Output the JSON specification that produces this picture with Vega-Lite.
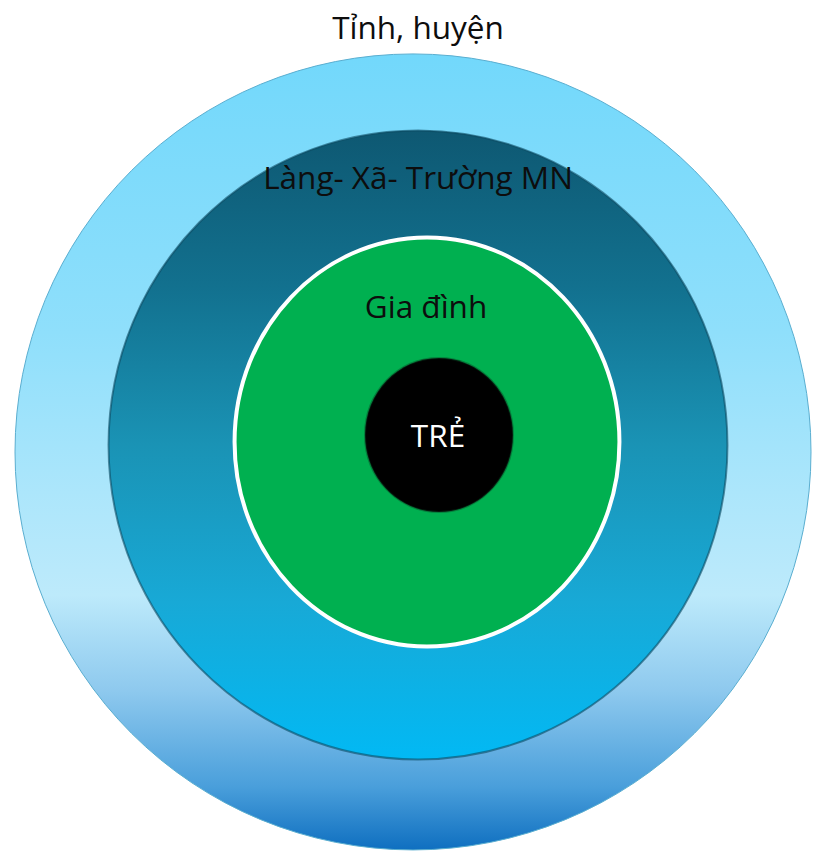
{
  "$schema": "https://vega.github.io/schema/vega-lite/v6.json",
  "width": 814,
  "height": 851,
  "padding": 0,
  "autosize": {"type": "fit", "contains": "padding"},
  "background": "#ffffff",
  "config": {"view": {"stroke": null}},
  "data": {
    "values": [
      {"ring": "Tỉnh, huyện", "level": 1, "cx": 413, "cy": 453, "d": 796, "lx": 418, "ly": 39},
      {"ring": "Làng- Xã- Trường MN", "level": 2, "cx": 418, "cy": 446, "d": 629, "lx": 418, "ly": 189},
      {"ring": "Gia đình", "level": 3, "cx": 427, "cy": 443, "d": 409, "lx": 426, "ly": 319},
      {"ring": "TRẺ", "level": 4, "cx": 439, "cy": 436, "d": 154, "lx": 438, "ly": 448}
    ]
  },
  "encoding": {
    "x": {"field": "cx", "type": "quantitative", "scale": {"domain": [0, 814], "nice": false, "zero": false}, "axis": null},
    "y": {"field": "cy", "type": "quantitative", "scale": {"domain": [0, 851], "nice": false, "zero": false, "reverse": true}, "axis": null}
  },
  "layer": [
    {
      "transform": [{"filter": "datum.level == 1"}],
      "mark": {
        "type": "point", "filled": true, "shape": "circle", "opacity": 1,
        "stroke": "#5aaed0", "strokeWidth": 1,
        "fill": {"gradient": "linear", "x1": 0, "y1": 0, "x2": 0, "y2": 1,
          "stops": [
            {"offset": 0, "color": "#72d8fb"},
            {"offset": 0.35, "color": "#8fdffb"},
            {"offset": 0.55, "color": "#ace6fb"},
            {"offset": 0.68, "color": "#bdeafb"},
            {"offset": 0.8, "color": "#8ec9ee"},
            {"offset": 0.92, "color": "#4a9fdb"},
            {"offset": 1, "color": "#0f6fc0"}
          ]}
      },
      "encoding": {
        "size": {"field": "d", "type": "quantitative", "scale": {"type": "pow", "exponent": 2, "domain": [0, 1000], "range": [0, 1000000]}, "legend": null}
      }
    },
    {
      "transform": [{"filter": "datum.level == 2"}],
      "mark": {
        "type": "point", "filled": true, "opacity": 1,
        "shape": "M-0.984,0C-0.984,-0.5523,-0.5435,-1,0,-1C0.5435,-1,0.984,-0.5523,0.984,0C0.984,0.5523,0.5435,1,0,1C-0.5435,1,-0.984,0.5523,-0.984,0Z",
        "stroke": "#0b4a60", "strokeWidth": 2, "strokeOpacity": 0.6,
        "fill": {"gradient": "linear", "x1": 0, "y1": 0, "x2": 0, "y2": 1,
          "stops": [
            {"offset": 0, "color": "#0e5872"},
            {"offset": 0.25, "color": "#12718f"},
            {"offset": 0.5, "color": "#1a93b5"},
            {"offset": 0.75, "color": "#18a9d6"},
            {"offset": 1, "color": "#02b9f4"}
          ]}
      },
      "encoding": {
        "size": {"field": "d", "type": "quantitative", "scale": {"type": "pow", "exponent": 2, "domain": [0, 1000], "range": [0, 1000000]}, "legend": null}
      }
    },
    {
      "transform": [{"filter": "datum.level == 3"}],
      "mark": {
        "type": "point", "filled": true, "opacity": 1,
        "shape": "M-0.941,0C-0.941,-0.5523,-0.5198,-1,0,-1C0.5198,-1,0.941,-0.5523,0.941,0C0.941,0.5523,0.5198,1,0,1C-0.5198,1,-0.941,0.5523,-0.941,0Z",
        "fill": "#00b050", "stroke": "#ffffff", "strokeWidth": 4
      },
      "encoding": {
        "size": {"field": "d", "type": "quantitative", "scale": {"type": "pow", "exponent": 2, "domain": [0, 1000], "range": [0, 1000000]}, "legend": null}
      }
    },
    {
      "transform": [{"filter": "datum.level == 4"}],
      "mark": {
        "type": "point", "filled": true, "opacity": 1,
        "shape": "M-0.961,0C-0.961,-0.5523,-0.5308,-1,0,-1C0.5308,-1,0.961,-0.5523,0.961,0C0.961,0.5523,0.5308,1,0,1C-0.5308,1,-0.961,0.5523,-0.961,0Z",
        "fill": "#000000", "stroke": "#0a3d20", "strokeWidth": 2, "strokeOpacity": 0.4
      },
      "encoding": {
        "size": {"field": "d", "type": "quantitative", "scale": {"type": "pow", "exponent": 2, "domain": [0, 1000], "range": [0, 1000000]}, "legend": null}
      }
    },
    {
      "transform": [{"filter": "datum.level < 4"}],
      "mark": {"type": "text", "font": "Open Sans", "fontSize": 31.5, "align": "center", "baseline": "alphabetic", "color": "#0d0d0d"},
      "encoding": {
        "x": {"field": "lx", "type": "quantitative"},
        "y": {"field": "ly", "type": "quantitative"},
        "text": {"field": "ring"}
      }
    },
    {
      "transform": [{"filter": "datum.level == 4"}],
      "mark": {"type": "text", "font": "Open Sans", "fontSize": 31.5, "align": "center", "baseline": "alphabetic", "color": "#ffffff"},
      "encoding": {
        "x": {"field": "lx", "type": "quantitative"},
        "y": {"field": "ly", "type": "quantitative"},
        "text": {"field": "ring"}
      }
    }
  ]
}
